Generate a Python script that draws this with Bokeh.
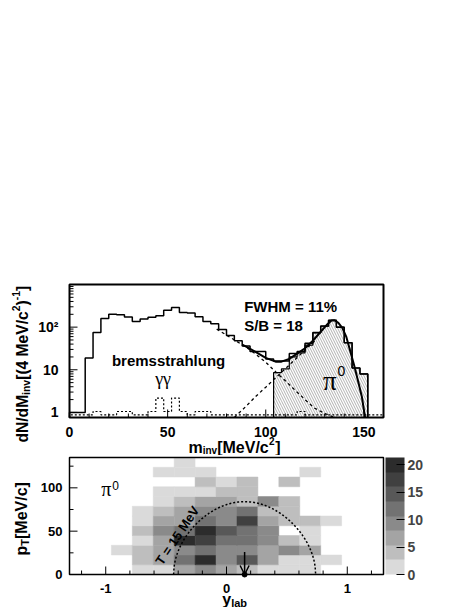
import numpy as np
from bokeh.plotting import figure
from bokeh.layouts import column, row
from bokeh.models import (Range1d, FixedTicker, Label, ColorBar, LinearColorMapper,
                          ColumnDataSource, Arrow, OpenHead)
from bokeh.transform import transform
from bokeh.embed import file_html
from bokeh.resources import INLINE

FONT = "Liberation Sans"
SERIF = "Liberation Serif"

# ---------------- top panel: invariant mass spectrum ----------------
mass_range = (0, 160)
mass_bin_width = 4
total_counts = [1, 1, 19, 75, 159, 200, 195, 174, 135, 155, 170, 185, 250, 288, 220,
                215, 175, 135, 120, 88, 64, 48, 36, 27, 27, 18, 16, 16, 24, 27, 42,
                75, 106, 146, 100, 43, 11, 8]
pi0_start = 104
pi0_counts = [8.6, 10.5, 20, 25, 38, 73, 105, 145, 100, 43, 11, 8]
gg_counts = [0.88, 0.88, 0.88, 1.05, 0.88, 0.88, 1.05, 1.05, 0.88, 0.88, 1.05, 2.17,
             1.05, 2.17, 1.05, 0.88, 1.05, 1.05, 0.88, 0.88, 0.88, 0.88, 0.88, 0.88,
             0.88, 0.88, 0.88, 0.88, 0.88, 1.05, 0.88, 0.88, 0.88, 0.88, 0.88, 0.88,
             0.88, 0.88, 0.88, 0.88]
bg_fit_m = [75, 80, 85, 90, 95, 100, 105, 110, 115, 120, 125, 130, 135]
bg_fit_v = [90, 65, 47, 34, 23, 15, 9, 5.5, 3.3, 2.0, 1.25, 0.95, 0.76]
sig_fit_m = [84, 90, 95, 100, 105, 110, 115, 120, 125]
sig_fit_v = [0.76, 1.4, 2.4, 3.9, 6.5, 10.6, 17.5, 29, 48]
tot_fit_m = [88, 90, 95, 100, 105, 108, 112, 116, 120, 124, 128, 131, 133.5, 135,
             137, 139, 141, 143, 145, 147, 149, 150.6]
tot_fit_v = [39, 35, 26, 19, 15.5, 15.5, 18, 24, 32, 48, 78, 112, 143, 145,
             126, 96, 60, 28, 13, 5.5, 2.3, 0.76]
mass_ticks = [0, 50, 100, 150]
mass_tick_labels = ["0", "50", "100", "150"]
mass_minor_ticks = [10, 20, 30, 40, 60, 70, 80, 90, 110, 120, 130, 140, 160]
dn_range = (0.76, 1000)
dn_ticks = [1, 10, 100]
dn_tick_labels = ["1", "10", "10²"]
dn_minor_ticks = [2, 3, 4, 5, 6, 7, 8, 9, 20, 30, 40, 50, 60, 70, 80, 90,
                  200, 300, 400, 500, 600, 700, 800, 900]

# ---------------- bottom panel: pT vs rapidity ----------------
ylab_range = (-1.3, 1.3)
n_ylab_bins = 15
pt_range = (0, 135)
n_pt_bins = 12
# rows from pT = 0 upwards, columns from y_lab = -1.3 to 1.3
counts = [
    [0, 0, 0, 2, 1, 7, 9, 7, 4, 2, 2, 1, 0, 0, 0],
    [0, 0, 0, 4, 7, 12, 20, 9, 15, 7, 2, 1, 2, 0, 0],
    [0, 0, 1, 4, 6, 10, 12, 9, 10, 7, 9, 6, 0, 0, 0],
    [0, 0, 0, 2, 7, 19, 17, 12, 11, 9, 4, 2, 0, 0, 0],
    [0, 0, 0, 4, 9, 13, 20, 15, 12, 10, 0, 1, 0, 0, 0],
    [0, 0, 0, 2, 6, 7, 13, 9, 17, 7, 4, 4, 2, 0, 0],
    [0, 0, 0, 1, 4, 7, 10, 9, 12, 4, 3, 0, 0, 0, 0],
    [0, 0, 0, 0, 2, 4, 7, 6, 4, 9, 4, 0, 0, 0, 0],
    [0, 0, 0, 0, 1, 2, 2, 4, 3, 0, 0, 0, 0, 0, 0],
    [0, 0, 0, 0, 0, 0, 4, 2, 3, 0, 4, 0, 0, 0, 0],
    [0, 0, 0, 0, 1, 2, 1, 0, 0, 0, 0, 1, 0, 0, 0],
    [0, 0, 0, 0, 0, 1, 0, 0, 0, 0, 0, 0, 0, 0, 0],
]
rap_ticks = [-1, 0, 1]
rap_tick_labels = ["-1", "0", "1"]
rap_minor_ticks = [-1.2, -0.8, -0.6, -0.4, -0.2, 0.2, 0.4, 0.6, 0.8, 1.2]
pt_ticks = [0, 50, 100]
pt_minor_ticks = [25, 75, 125]
z_max = 21.33
colorbar_ticks = [0, 5, 10, 15, 20]
gray_palette = ["#dadada", "#bebebe", "#a4a4a4", "#8a8a8a",
                "#727272", "#585858", "#404040", "#2c2c2c"]
y_mid = 0.15          # arrow position (mid-rapidity)
arrow_top_pt = 26
T_curve_E = 159.0     # MeV, total energy of the T = 15 MeV contour
m_pi0 = 134.98

# ---------------- layout (page pixels) ----------------
PAGE_W, PAGE_H = 469, 607
STRIP_W = 34                 # left strip with the rotated titles
BOX_L, BOX_R = 69, 383       # plot boxes (both panels)
PAD, PAD_L = 2, 6            # frame extends beyond the boxes
B1_T, B1_B = 284, 417        # top box
B2_T, B2_B = 457, 574        # bottom box
SPLIT = 455                  # page y where the bottom figure starts
TICK_MAJOR, TICK_MINOR = 8, 4
BOX_W = BOX_R - BOX_L
COL_W = PAGE_W - STRIP_W
FR_L, FR_R = BOX_L - PAD_L, BOX_R + PAD

# scales of the two boxes (data per pixel)
upp1 = (mass_range[1] - mass_range[0]) / BOX_W
dpp1 = (np.log10(dn_range[1]) - np.log10(dn_range[0])) / (B1_B - B1_T)
upp2 = (ylab_range[1] - ylab_range[0]) / BOX_W
ppp2 = (pt_range[1] - pt_range[0]) / (B2_B - B2_T)


def y1_page(py):
    return dn_range[0] * 10 ** ((B1_B - py) * dpp1)


def y2_page(py):
    return pt_range[0] + (B2_B - py) * ppp2


def step_path(edges, vals, floor):
    xs, ys = [edges[0]], [floor]
    for i, v in enumerate(vals):
        xs += [edges[i], edges[i + 1]]
        ys += [v, v]
    xs.append(edges[-1])
    ys.append(floor)
    return xs, ys


def style_plot(p, size, ystandoff):
    ax = p.yaxis
    ax.major_label_text_font = FONT
    ax.major_label_text_font_style = "bold"
    ax.major_label_text_font_size = f"{size}px"
    ax.major_label_text_color = "black"
    ax.major_tick_in = 0
    ax.major_tick_out = 0
    ax.minor_tick_in = 0
    ax.minor_tick_out = 0
    ax.major_tick_line_color = None
    ax.minor_tick_line_color = None
    ax.axis_line_color = None
    ax.major_label_standoff = ystandoff
    p.xgrid.visible = False
    p.ygrid.visible = False
    p.outline_line_color = None
    p.background_fill_color = "white"
    p.border_fill_color = "white"


def inner_ticks(p, xticks, xminor, x0, x_of_px, yticks, yminor, y0, y_of_px):
    """tick marks pointing into the box from its bottom and left edges"""
    for tk, ln in ((xticks, TICK_MAJOR), (xminor, TICK_MINOR)):
        p.segment(x0=tk, x1=tk, y0=[y0] * len(tk), y1=[y_of_px(ln)] * len(tk),
                  line_color="black", line_width=1)
    for tk, ln in ((yticks, TICK_MAJOR), (yminor, TICK_MINOR)):
        p.segment(x0=[x0] * len(tk), x1=[x_of_px(ln)] * len(tk), y0=tk, y1=tk,
                  line_color="black", line_width=1)


def piece(p, x, y, text, size, dx=0, dy=0, angle=0.0, font=FONT, style="bold",
          align="left", baseline="alphabetic"):
    p.add_layout(Label(x=x, y=y, x_offset=dx, y_offset=dy, text=text,
                       text_font=font, text_font_style=style,
                       text_font_size=f"{size}px", angle=angle,
                       text_align=align, text_baseline=baseline,
                       text_color="black"))


# ======================= TOP FIGURE =======================
p1 = figure(width=COL_W, height=SPLIT,
            x_range=Range1d(mass_range[0] - PAD_L * upp1, mass_range[1] + PAD * upp1),
            y_range=Range1d(y1_page(SPLIT), y1_page(B1_T - PAD)),
            y_axis_type="log", x_axis_location=None,
            output_backend="svg", toolbar_location=None,
            min_border_left=FR_L - STRIP_W, min_border_right=PAGE_W - FR_R,
            min_border_top=B1_T - PAD, min_border_bottom=0)
style_plot(p1, 14, 5)
p1.yaxis.ticker = FixedTicker(ticks=dn_ticks)
p1.yaxis.major_label_overrides = dict(zip(dn_ticks, dn_tick_labels))
inner_ticks(p1, mass_ticks, mass_minor_ticks, mass_range[0],
            lambda px: mass_range[0] + px * upp1,
            dn_ticks, dn_minor_ticks, dn_range[0], lambda px: y1_page(B1_B - px))

floor = dn_range[0]
edges_all = [i * mass_bin_width for i in range(len(total_counts) + 1)]
edges_pi0 = [pi0_start + i * mass_bin_width for i in range(len(pi0_counts) + 1)]
edges_gg = [i * mass_bin_width for i in range(len(gg_counts) + 1)]

p1.quad(left=edges_pi0[:-1], right=edges_pi0[1:], top=pi0_counts, bottom=floor,
        fill_color=None, line_color=None, hatch_pattern="\\",
        hatch_color="#7a7a7a", hatch_scale=5, hatch_weight=0.6)
xs, ys = step_path(edges_pi0, pi0_counts, floor)
p1.line(xs, ys, line_color="black", line_width=1.2)

xs, ys = step_path(edges_gg, gg_counts, floor)
p1.line(xs, ys, line_color="black", line_width=1.2, line_dash="2 2")

xs, ys = step_path(edges_all, total_counts, floor)
p1.line(xs, ys, line_color="black", line_width=1.5)

p1.line(bg_fit_m, bg_fit_v, line_color="black", line_width=1.3, line_dash="3 3")
p1.line(sig_fit_m, sig_fit_v, line_color="black", line_width=1.3, line_dash="3 3")
p1.line(tot_fit_m, tot_fit_v, line_color="black", line_width=2)

# plot box
p1.quad(left=[mass_range[0]], right=[mass_range[1]], bottom=[dn_range[0]],
        top=[dn_range[1]], fill_color=None, line_color="black", line_width=2)

piece(p1, 89, 303, "FWHM = 11%", 15)
piece(p1, 89, 111, "S/B = 18", 15)
piece(p1, 21.6, 16.9, "bremsstrahlung", 15)
piece(p1, 47.7, 6.1, "γγ", 18, font=SERIF, style="normal", align="center")
piece(p1, 129.2, 5.53, "π", 27, font=SERIF, style="normal")
piece(p1, 136.6, 9.48, "0", 14, style="normal")

# tick labels and x title below the top box
for t, s in zip(mass_ticks, mass_tick_labels):
    piece(p1, t, y1_page(431.5), s, 14, align="center")
tx = mass_range[0] + (188 - BOX_L) * upp1
ty = y1_page(447)
piece(p1, tx, ty, "m", 16)
piece(p1, tx, ty, "inv", 10, dx=14.2, dy=-2.5)
piece(p1, tx, ty, "[MeV/c", 16, dx=28.7)
piece(p1, tx, ty, "2", 10, dx=80.6, dy=6.5)
piece(p1, tx, ty, "]", 16, dx=86.7)

# ======================= BOTTOM FIGURE =======================
p2 = figure(width=COL_W, height=PAGE_H - SPLIT,
            x_range=Range1d(ylab_range[0] - PAD_L * upp2, ylab_range[1] + PAD * upp2),
            y_range=Range1d(y2_page(PAGE_H), y2_page(SPLIT)),
            x_axis_location=None, output_backend="svg", toolbar_location=None,
            min_border_left=FR_L - STRIP_W, min_border_right=PAGE_W - FR_R,
            min_border_top=0, min_border_bottom=0)
style_plot(p2, 13, 1)
p2.yaxis.ticker = FixedTicker(ticks=pt_ticks)

xe = np.linspace(ylab_range[0], ylab_range[1], n_ylab_bins + 1)
pe = np.linspace(pt_range[0], pt_range[1], n_pt_bins + 1)
cells = dict(left=[], right=[], bottom=[], top=[], c=[])
for r, row_vals in enumerate(counts):
    for c, v in enumerate(row_vals):
        if v > 0:
            cells["left"].append(xe[c])
            cells["right"].append(xe[c + 1])
            cells["bottom"].append(pe[r])
            cells["top"].append(pe[r + 1])
            cells["c"].append(v)
mapper = LinearColorMapper(palette=gray_palette, low=0, high=z_max)
p2.quad(left="left", right="right", bottom="bottom", top="top",
        source=ColumnDataSource(cells),
        fill_color=transform("c", mapper), line_color=transform("c", mapper),
        line_width=0.5)

inner_ticks(p2, rap_ticks, rap_minor_ticks, ylab_range[0],
            lambda px: ylab_range[0] + px * upp2,
            pt_ticks, pt_minor_ticks, pt_range[0], lambda px: y2_page(B2_B - px))

a = np.arccosh(T_curve_E / m_pi0)
yy = np.linspace(y_mid - a, y_mid + a, 300)
pt = np.sqrt(np.clip((T_curve_E / np.cosh(yy - y_mid)) ** 2 - m_pi0 ** 2, 0, None))
p2.line(yy, pt, line_color="black", line_width=1.5, line_dash="2 2")

p2.add_layout(Arrow(end=OpenHead(size=9, line_width=1.5, line_color="black"),
                    x_start=y_mid, y_start=arrow_top_pt, x_end=y_mid, y_end=0,
                    line_width=1.5, line_color="black"))
p2.scatter([y_mid], [0], size=5, color="black")

p2.quad(left=[ylab_range[0]], right=[ylab_range[1]], bottom=[pt_range[0]],
        top=[pt_range[1]], fill_color=None, line_color="black", line_width=1.5)

piece(p2, -0.407, 45, "T = 15 MeV", 13, angle=0.98, align="center", baseline="middle")
piece(p2, -1.037, 99, "π", 20, font=SERIF, style="normal")
piece(p2, -0.946, 102.6, "0", 12, style="normal")

# tick labels and x title below the bottom box
for t, s in zip(rap_ticks, rap_tick_labels):
    piece(p2, t, y2_page(587.5), s, 13, align="center")
bx0 = ylab_range[0] + (221.7 - BOX_L) * upp2
piece(p2, bx0, y2_page(599), "y", 16)
piece(p2, bx0, y2_page(599), "lab", 11, dx=9, dy=-3)

cb = ColorBar(color_mapper=mapper, ticker=FixedTicker(ticks=colorbar_ticks),
              width=19, height=B2_B - B2_T, padding=0, margin=0,
              location=(0, PAGE_H - B2_B),
              major_tick_in=8, major_tick_out=0, major_tick_line_color="black",
              minor_tick_line_color=None, bar_line_color=None,
              border_line_color=None, background_fill_alpha=0,
              major_label_text_font=FONT, major_label_text_font_style="bold",
              major_label_text_font_size="14px", label_standoff=3)
p2.add_layout(cb, "right")

# ---- left strip: rotated y titles ----
left = figure(width=STRIP_W, height=PAGE_H, x_range=Range1d(0, STRIP_W),
              y_range=Range1d(PAGE_H, 0), output_backend="svg",
              toolbar_location=None, x_axis_location=None, y_axis_location=None,
              min_border_left=0, min_border_right=0,
              min_border_top=0, min_border_bottom=0)
left.frame_align = False
left.xgrid.visible = False
left.ygrid.visible = False
left.outline_line_color = None

rot = np.pi / 2
ax_, ay_ = 22, 442
piece(left, ax_, ay_, "dN/dM", 15.6, angle=rot)
piece(left, ax_, ay_, "inv", 10.4, dx=3.6, dy=47.6, angle=rot)
piece(left, ax_, ay_, "[(4 MeV/c", 15.6, dy=62.7, angle=rot)
piece(left, ax_, ay_, "2", 10.4, dx=-6.5, dy=131.2, angle=rot)
piece(left, ax_, ay_, ")", 15.6, dy=137.1, angle=rot)
piece(left, ax_, ay_, "-1", 10.4, dx=-6.5, dy=142.3, angle=rot)
piece(left, ax_, ay_, "]", 15.6, dy=151.5, angle=rot)

bx, by = 20.5, 555
piece(left, bx, by, "p", 16, angle=rot)
piece(left, bx, by, "T", 11, dx=4, dy=9.8, angle=rot)
piece(left, bx, by, " [MeV/c]", 16, dy=16.5, angle=rot)

layout = row(left, column(p1, p2, spacing=0), spacing=0)
open("out.html", "w").write(file_html(layout, INLINE))
